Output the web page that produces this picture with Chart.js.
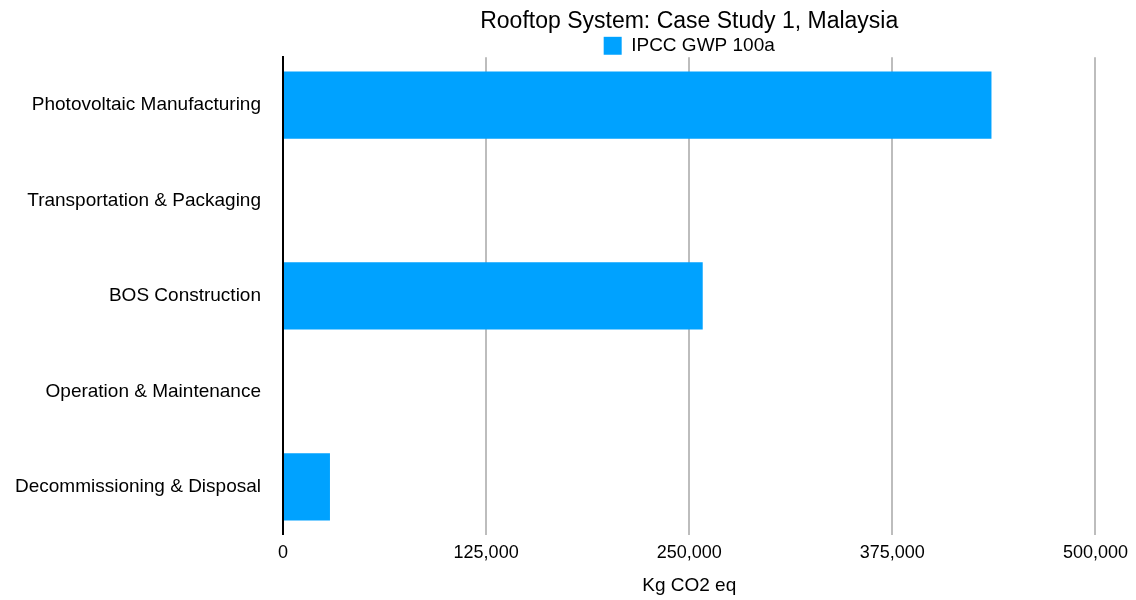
<!DOCTYPE html>
<html>
<head>
<meta charset="utf-8">
<script src="https://cdn.jsdelivr.net/npm/chart.js@4/dist/chart.umd.min.js"></script>
<style>
  html, body { margin: 0; padding: 0; background: #fff; }
  #wrap { width: 1136px; height: 600px; position: relative; }
</style>
</head>
<body>
<div id="wrap"><canvas id="barChart"></canvas></div>
<script>
const categories = [
  "Photovoltaic Manufacturing",
  "Transportation & Packaging",
  "BOS Construction",
  "Operation & Maintenance",
  "Decommissioning & Disposal",
];
const gwpValues = [436000, 0, 258300, 0, 28900];
const seriesName = "IPCC GWP 100a";
const xTicks = [0, 125000, 250000, 375000, 500000];

const fontFamily = "'Liberation Sans', Arial, Helvetica, sans-serif";
const ctx = document.getElementById("barChart").getContext("2d");

// trim the space chart.js leaves under the legend
const legendTrim = {
  id: "legendTrim",
  beforeInit(chart) {
    const origFit = chart.legend.fit;
    chart.legend.fit = function () {
      origFit.bind(this)();
      this.height -= 8;
    };
  },
};

new Chart(ctx, {
  type: "bar",
  data: {
    labels: categories,
    datasets: [
      {
        label: seriesName,
        data: gwpValues,
        backgroundColor: "#00A2FF",
        borderWidth: 0,
        categoryPercentage: 0.8,
        barPercentage: 0.88,
      },
    ],
  },
  options: {
    indexAxis: "y",
    responsive: true,
    maintainAspectRatio: false,
    animation: false,
    layout: { padding: { left: 8, right: 3, top: 9, bottom: 3 } },
    plugins: {
      title: {
        display: true,
        fullSize: false,
        text: "Rooftop System: Case Study 1, Malaysia",
        color: "#000",
        font: { size: 23, weight: "normal", family: fontFamily, lineHeight: 1.1 },
        padding: { top: 0, bottom: 2 },
      },
      legend: {
        display: true,
        fullSize: false,
        position: "top",
        labels: {
          boxWidth: 18,
          boxHeight: 18,
          color: "#000",
          padding: 0,
          font: { size: 19, family: fontFamily },
        },
      },
      tooltip: { enabled: false },
    },
    scales: {
      x: {
        min: 0,
        max: 500000,
        afterBuildTicks: (axis) => {
          axis.ticks = xTicks.map((v) => ({ value: v }));
        },
        grid: {
          color: (c) => (c.index === 0 ? "rgba(0,0,0,0)" : "#BDBDBD"),
          lineWidth: 2,
          drawTicks: false,
        },
        border: { display: false },
        ticks: {
          color: "#000",
          padding: 8,
          font: { size: 18, family: fontFamily },
          callback: (v) => v.toLocaleString("en-US"),
        },
        title: {
          display: true,
          text: "Kg CO2 eq",
          color: "#000",
          font: { size: 19, family: fontFamily },
          padding: { top: 2, bottom: 0 },
        },
      },
      y: {
        afterFit: (scale) => {
          scale.width = 275;
        },
        grid: { display: false, drawTicks: false },
        border: { display: true, color: "#000", width: 2 },
        ticks: {
          color: "#000",
          padding: 22,
          font: { size: 19, family: fontFamily },
        },
      },
    },
  },
  plugins: [legendTrim],
});
</script>
</body>
</html>
